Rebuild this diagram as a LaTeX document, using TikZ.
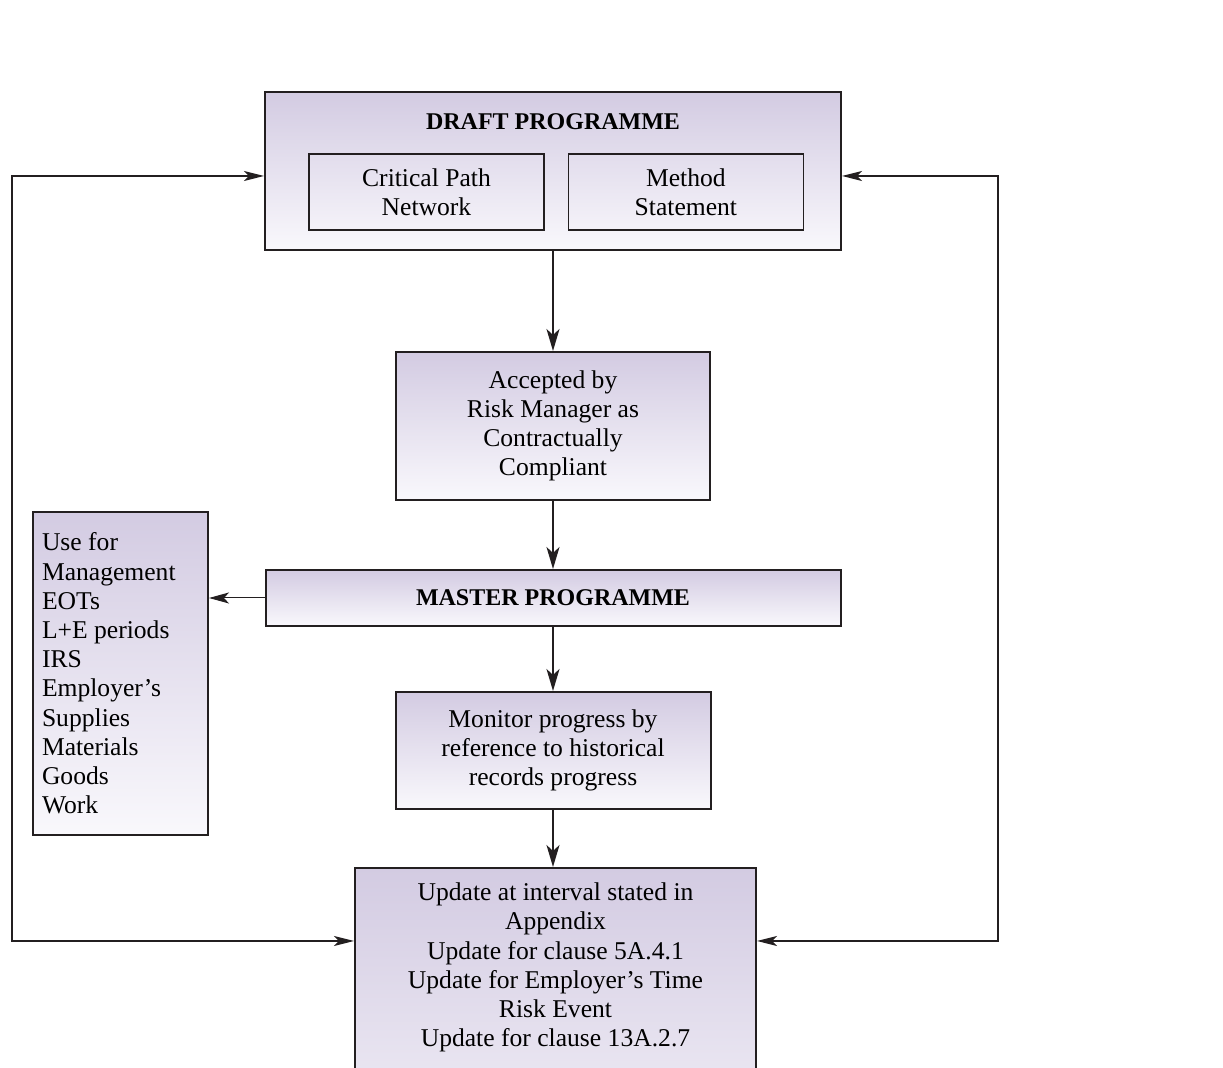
\documentclass[tikz,border=0pt]{standalone}
\usepackage{fontspec}
\setmainfont{Liberation Serif}
\usepackage{tikz}
\usetikzlibrary{arrows.meta,positioning,calc}
\definecolor{ink}{RGB}{35,31,32}
\definecolor{lilac}{RGB}{211,203,226}
\definecolor{paper}{RGB}{249,248,252}
\newcommand\txt[0]{\fontsize{12.8}{14.6}\selectfont}
\newcommand\hd[0]{\fontsize{12}{14}\selectfont\bfseries}

\begin{document}
\begin{tikzpicture}[x=0.5pt,y=-0.5pt,
    box/.style={draw=ink,line width=1pt,top color=lilac,bottom color=paper,
      align=center,inner sep=4pt,font=\txt},
    inbox/.style={draw=ink,line width=0.7pt,align=center,minimum width=117.5pt,
      minimum height=38pt,font=\txt},
    flow/.style={draw=ink,line width=1pt,-{Stealth[length=11pt,width=6.5pt,inset=3pt]}},
    sideflow/.style={draw=ink,line width=0.5pt,-{Stealth[length=10pt,width=5.5pt,inset=2.5pt]}},
    backline/.style={draw=ink,line width=0.75pt,
      {Stealth[length=10pt,width=5pt,inset=2.5pt]}-{Stealth[length=10pt,width=5pt,inset=2.5pt]}}]
    \useasboundingbox (0,0) rectangle (1223,1068);
    \node[box,minimum width=288pt,minimum height=79pt] (draft) at (553,171) {};
    \node[font=\hd] (drafttitle) at (553,122) {DRAFT PROGRAMME};
    \node[inbox] (cpn) at (426.5,192) {Critical Path\\Network};
    \node[inbox,right=11.5pt of cpn] (ms) {Method\\Statement};
    \node[box,minimum width=157pt,minimum height=74pt,below=50pt of draft] (accepted)
        {Accepted by\\Risk Manager as\\Contractually\\Compliant};
    \node[box,font=\hd,minimum width=287.5pt,minimum height=28pt,below=34pt of accepted] (master)
        {MASTER PROGRAMME};
    \node[box,minimum width=157.5pt,minimum height=58.5pt,below=32pt of master] (monitor)
        {Monitor progress by\\reference to historical\\records progress};
    \node[box,minimum width=200.5pt,inner ysep=7.5pt,text depth=80pt,anchor=north] (upd)
        at (555.5,867)
        {Update at interval stated in\\Appendix\\Update for clause 5A.4.1\\
         Update for Employer's Time\\Risk Event\\Update for clause 13A.2.7};
    \node[box,align=flush left,inner xsep=4.5pt,text width=78.5pt,minimum height=161.5pt] (use)
        at (120.5,673.5)
        {Use for\\Management\\EOTs\\L+E periods\\IRS\\Employer's\\Supplies\\Materials\\Goods\\Work};
    \coordinate (toprow) at (0,176);
    \coordinate (lft) at (12,941);
    \coordinate (rgt) at (998,941);
    \draw[flow] (draft.south) -- (accepted.north);
    \draw[flow] (accepted.south) -- (master.north);
    \draw[flow] (master.south) -- (monitor.north);
    \draw[flow] (monitor.south) -- (monitor.south |- upd.north);
    \draw[sideflow] (master.west) -- (master.west -| use.east);
    \draw[backline] (draft.west |- toprow) -| (lft) -- (upd.west |- lft);
    \draw[backline] (draft.east |- toprow) -| (rgt) -- (upd.east |- rgt);
\end{tikzpicture}
\end{document}
